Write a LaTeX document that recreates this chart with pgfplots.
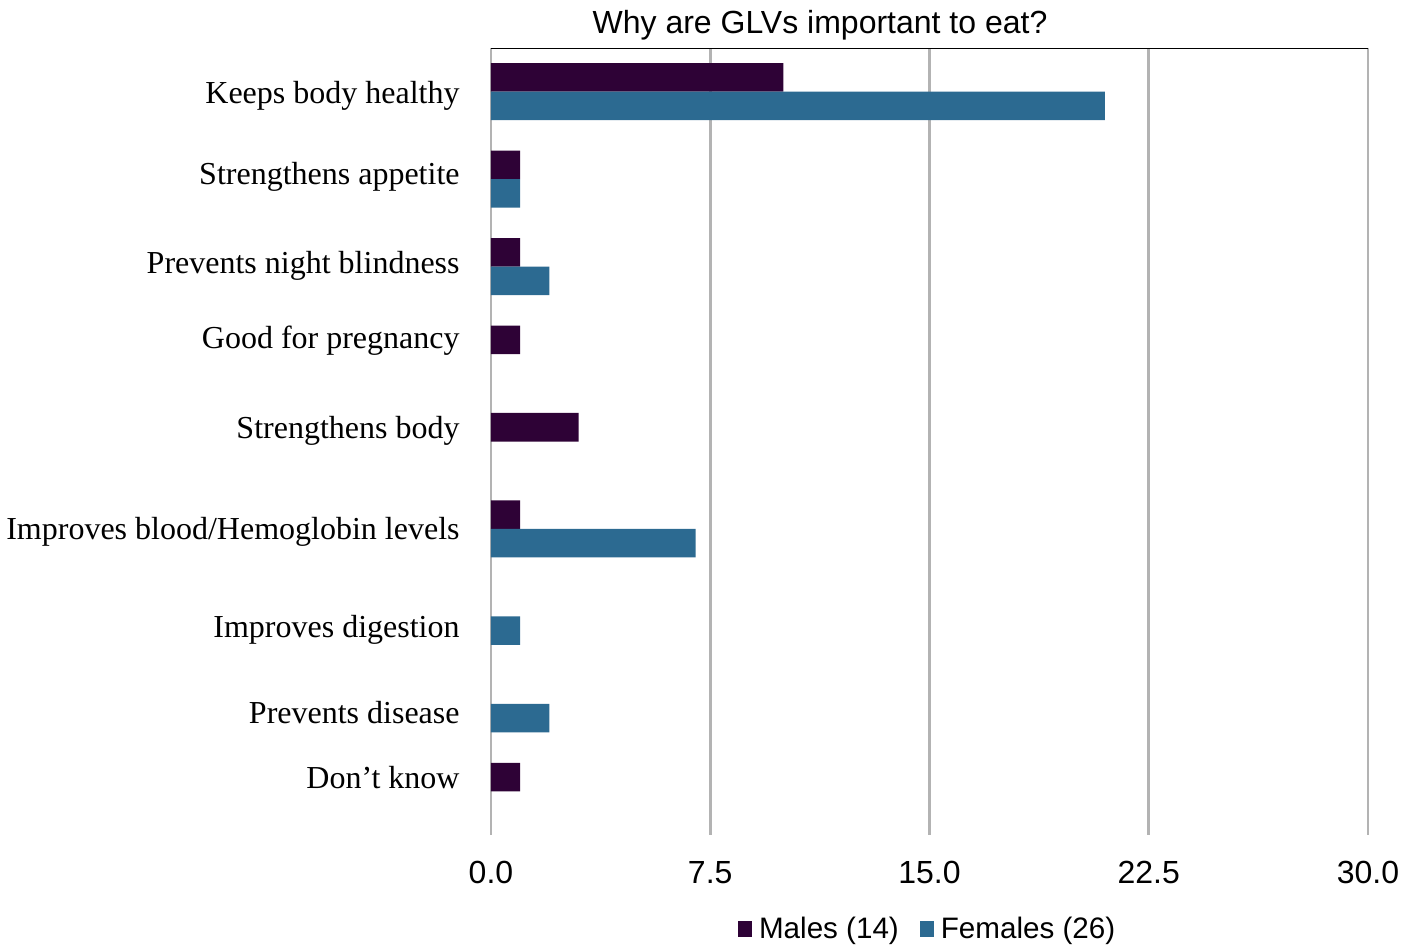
\documentclass[border=0pt]{standalone}
\usepackage{fontspec}
\setmainfont{Liberation Serif}
\newfontfamily\arial{Liberation Sans}
\usepackage{pgfplots}
\pgfplotsset{compat=1.18}

\definecolor{males}{HTML}{2E0236}
\definecolor{females}{HTML}{2C6A91}
\definecolor{gridgray}{HTML}{B3B3B3}

\newcommand{\lbl}[2]{\raisebox{#1}{#2}}

\begin{document}
\begin{tikzpicture}
\useasboundingbox (-245.5pt,-55pt) rectangle (459pt,417.5pt);
\begin{axis}[
    at={(0,0)}, anchor=south west,
    scale only axis,
    width=438.5pt, height=393.5pt,
    xbar,
    bar width=0.326,
    y dir=reverse,
    xmin=0, xmax=30,
    ymin=-0.5, ymax=8.5,
    xtick={0,7.5,15,22.5,30},
    xticklabels={0.0,7.5,15.0,22.5,30.0},
    ytick={0,1,2,3,4,5,6,7,8},
    yticklabels={
      \lbl{-0.5pt}{Keeps body healthy},
      \lbl{2.5pt}{Strengthens appetite},
      \lbl{2pt}{Prevents night blindness},
      \lbl{8pt}{Good for pregnancy},
      \lbl{7pt}{Strengthens body},
      \lbl{0pt}{Improves blood/Hemoglobin levels},
      \lbl{-5.5pt}{Improves digestion},
      \lbl{-4.5pt}{Prevents disease},
      \lbl{6.5pt}{Don’t know}},
    major tick length=0pt,
    axis line style={draw=none},
    xmajorgrids=true,
    ymajorgrids=false,
    major grid style={gridgray, line width=1.3pt},
    /pgf/number format/assume math mode=true,
    xticklabel style={font=\arial\fontsize{16}{19}\selectfont, anchor=north,
        inner sep=0pt, text height=11.5pt, text depth=0pt},
    xticklabel shift=12.5pt,
    yticklabel style={font=\fontsize{16}{19}\selectfont, anchor=east,
        inner sep=0pt, text height=10.6pt, text depth=0pt},
    yticklabel shift=15.5pt,
    legend columns=2,
    legend style={draw=none, at={(0.4985,-0.12)}, anchor=center,
        font=\arial\fontsize{14.8}{18}\selectfont,
        /tikz/every even column/.append style={column sep=9pt},
        nodes={inner sep=1.5pt}},
    legend image code/.code={\fill[#1] (0pt,-3.8pt) rectangle (7pt,4pt);
        \path (9pt,0pt);},
]
% Males (14)
\addplot[draw=none, fill=males, bar shift=-0.163] coordinates {
    (10,0) (1,1) (1,2) (1,3) (3,4) (1,5) (1,8)
};
% Females (26)
\addplot[draw=none, fill=females, bar shift=0.163] coordinates {
    (21,0) (1,1) (2,2) (7,5) (1,6) (2,7)
};
\legend{Males (14), Females (26)}
\draw[black, line width=1pt] (rel axis cs:0,1) -- (rel axis cs:1,1);
\end{axis}
\node[anchor=base, inner sep=0pt, font=\arial\fontsize{16}{19}\selectfont]
    at (164.5pt,400.5pt) {Why are GLVs important to eat?};
\end{tikzpicture}
\end{document}
